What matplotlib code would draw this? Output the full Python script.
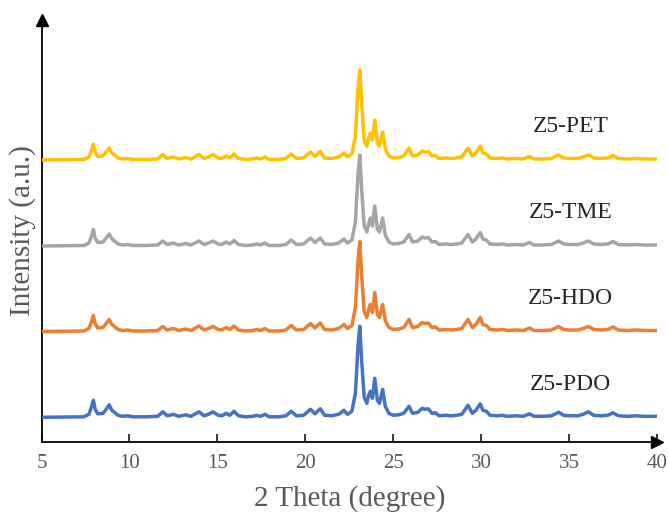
import matplotlib
matplotlib.use("Agg")
import matplotlib.pyplot as plt

# ---------------------------------------------------------------
# XRD patterns (2 theta in degrees, intensity
# in arbitrary units above each pattern's own baseline)
# ---------------------------------------------------------------
two_theta = [
    5.0, 7.4, 7.7, 7.85, 7.95, 8.05, 8.2, 8.5, 8.7, 8.85,
    9.0, 9.15, 9.35, 9.6, 9.9, 10.2, 11.0, 11.6, 11.9, 12.15,
    12.5, 12.8, 13.2, 13.5, 13.95, 14.25, 14.5, 14.75, 15.05, 15.25,
    15.5, 15.7, 15.95, 16.2, 16.6, 17.0, 17.25, 17.45, 17.7, 17.95,
    18.5, 18.9, 19.2, 19.5, 19.9, 20.3, 20.55, 20.85, 21.1, 21.5,
    21.9, 22.2, 22.4, 22.65, 22.85, 23.0, 23.1, 23.2, 23.35, 23.5,
    23.6, 23.7, 23.82, 23.95, 24.1, 24.22, 24.4, 24.55, 24.75, 25.0,
    25.3, 25.6, 25.9, 26.1, 26.4, 26.65, 26.8, 27.0, 27.2, 27.4,
    27.6, 28.0, 28.3, 28.6, 28.9, 29.25, 29.5, 29.7, 29.95, 30.1,
    30.3, 30.5, 30.9, 31.2, 31.5, 32.0, 32.4, 32.75, 33.0, 33.5,
    34.0, 34.4, 34.7, 35.0, 35.5, 35.8, 36.1, 36.4, 36.8, 37.2,
    37.5, 37.8, 38.3, 38.8, 39.3, 40.0,
]

pdo = [
    0, 0.5, 3, 11, 17, 8, 3.5, 4, 8.5, 12.5,
    7, 5, 2, 1, 1.5, 0.5, 0.5, 1, 5.5, 1.5,
    3, 1, 2.5, 1, 5.5, 1.5, 3, 5.5, 2, 1.5,
    4, 2, 6, 1.5, 0.5, 1, 2, 1, 3, 0.5,
    0.5, 1.5, 6, 1.5, 2, 8, 3.5, 8.5, 2, 1.5,
    3, 7, 3, 6, 24, 72, 91, 58, 20, 14,
    22, 26, 19, 39, 17, 14, 28, 11, 4, 2,
    2.5, 4, 11, 4, 5, 9, 8, 8.5, 4, 4.5,
    1.5, 2, 1.5, 2, 3, 12, 4, 7, 13.5, 7,
    6, 2, 1.5, 2, 1, 1.5, 1, 3.5, 1, 1,
    1.5, 5, 2, 1.5, 1.5, 3, 5.5, 2, 1.5, 2,
    4.5, 1.5, 1, 1.5, 1, 1,
]

hdo = [
    0, 0.5, 3, 10, 16, 8, 3.5, 4, 8.5, 12,
    7, 5, 2, 1, 1.5, 0.5, 0.5, 1, 5, 1.5,
    3, 1, 2.5, 1, 5.5, 1.5, 3, 5, 2, 1.5,
    4, 2, 5.5, 1.5, 0.5, 1, 2, 1, 3, 0.5,
    0.5, 1.5, 6, 1.5, 2, 8, 3.5, 8.5, 2, 1.5,
    3, 7, 3, 6, 24, 71, 90, 58, 20, 14,
    22, 27, 19, 39, 17, 14, 27, 11, 4, 2,
    2.5, 4, 12, 4, 5, 9, 8, 8.5, 4, 4.5,
    1.5, 2, 1.5, 2, 3, 12, 4, 7, 14, 7,
    6, 2, 1.5, 2, 1, 1.5, 1, 3.5, 1, 1,
    1.5, 5, 2, 1.5, 1.5, 3, 5, 2, 1.5, 2,
    4.5, 1.5, 1, 1.5, 1, 1,
]

tme = [
    0, 0.5, 3, 10.5, 16.5, 8, 3.5, 4, 8.5, 12,
    7, 5, 2, 1, 1.5, 0.5, 0.5, 1, 5, 1.5,
    3, 1, 2.5, 1, 5, 1.5, 3, 5, 2, 1.5,
    4, 2, 5.5, 1.5, 0.5, 1, 2, 1, 3, 0.5,
    0.5, 1.5, 6, 1.5, 2, 8, 3.5, 8, 2, 1.5,
    3, 7, 3, 6, 24, 72, 91, 58, 20, 14,
    22, 28, 20, 40, 17, 14, 28, 11, 4, 2,
    2.5, 4, 11.5, 4, 5, 9, 8, 8.5, 4, 4.5,
    1.5, 2, 1.5, 2, 3, 11.5, 4, 7, 13.5, 7,
    6, 2, 1.5, 2, 1, 1.5, 1, 3.5, 1, 1,
    1.5, 5, 2, 1.5, 1.5, 3, 5, 2, 1.5, 2,
    4.5, 1.5, 1, 1.5, 1, 1,
]

pet = [
    0, 0.5, 3, 10, 16, 8, 3.5, 4, 8.5, 12,
    7, 5, 2, 1, 1.5, 0.5, 0.5, 1, 5.5, 1.5,
    3, 1, 2.5, 1, 5.5, 1.5, 3, 5.5, 2, 1.5,
    4, 2, 6, 1.5, 0.5, 1, 2, 1, 3, 0.5,
    0.5, 1.5, 6, 1.5, 2, 8, 3.5, 8.5, 2, 1.5,
    3, 7, 3, 6, 24, 72, 90, 58, 20, 14,
    22, 27, 20, 40, 17, 14, 28, 11, 4, 2,
    2.5, 4, 12, 4, 5, 9, 8, 8.5, 4, 4.5,
    1.5, 2, 1.5, 2, 3, 12, 4, 7, 14, 7,
    6, 2, 1.5, 2, 1, 1.5, 1, 3.5, 1, 1,
    1.5, 5, 2, 1.5, 1.5, 3, 5, 2, 1.5, 2,
    4.5, 1.5, 1, 1.5, 1, 1,
]

names = ["Z5-PDO", "Z5-HDO", "Z5-TME", "Z5-PET"]
series = [pdo, hdo, tme, pet]
colors = ["#4472C4", "#ED7D31", "#A5A5A5", "#FFC000"]

# vertical stacking of the patterns (layout)
offsets = [24.7, 110.5, 196, 282]
label_x = 35.1
label_gap = 33

x_ticks = [5, 10, 15, 20, 25, 30, 35, 40]

# ---------------------------------------------------------------
# Figure
# ---------------------------------------------------------------
plt.rcParams["font.family"] = ["Liberation Serif", "DejaVu Serif"]

W, H = 668, 521
fig = plt.figure(figsize=(W / 100, H / 100), dpi=100)
ax = fig.add_axes([41.5 / W, (H - 442) / H, (657 - 41.5) / W, 422 / H])

for name, ys, col, off in zip(names, series, colors, offsets):
    ax.plot(two_theta, [v + off for v in ys], color=col, lw=2.5,
            solid_joinstyle="round", zorder=3)
    ax.text(label_x, off + label_gap, name, ha="center", va="center",
            fontsize=17, color="#262626")

ax.set_xlim(5, 40)
ax.set_ylim(0, 422)
ax.set_xticks(x_ticks)
ax.set_yticks([])

for side in ("top", "right"):
    ax.spines[side].set_visible(False)
for side in ("left", "bottom"):
    ax.spines[side].set_color("black")
    ax.spines[side].set_linewidth(1.3)

ax.tick_params(axis="x", direction="in", length=6, width=1.1,
               colors="black", labelcolor="#595959", labelsize=15, pad=9)

# arrow heads on the axes
ax.plot(1, 0, ">", color="black", ms=8, transform=ax.transAxes,
        clip_on=False, zorder=5)
ax.plot(0, 1, "^", color="black", ms=8, transform=ax.transAxes,
        clip_on=False, zorder=5)

ax.set_xlabel("2 Theta (degree)", fontsize=21, color="#595959", labelpad=8)
ax.set_ylabel("Intensity (a.u.)", fontsize=21, color="#595959", labelpad=4)

fig.savefig("out.png", dpi=100)
